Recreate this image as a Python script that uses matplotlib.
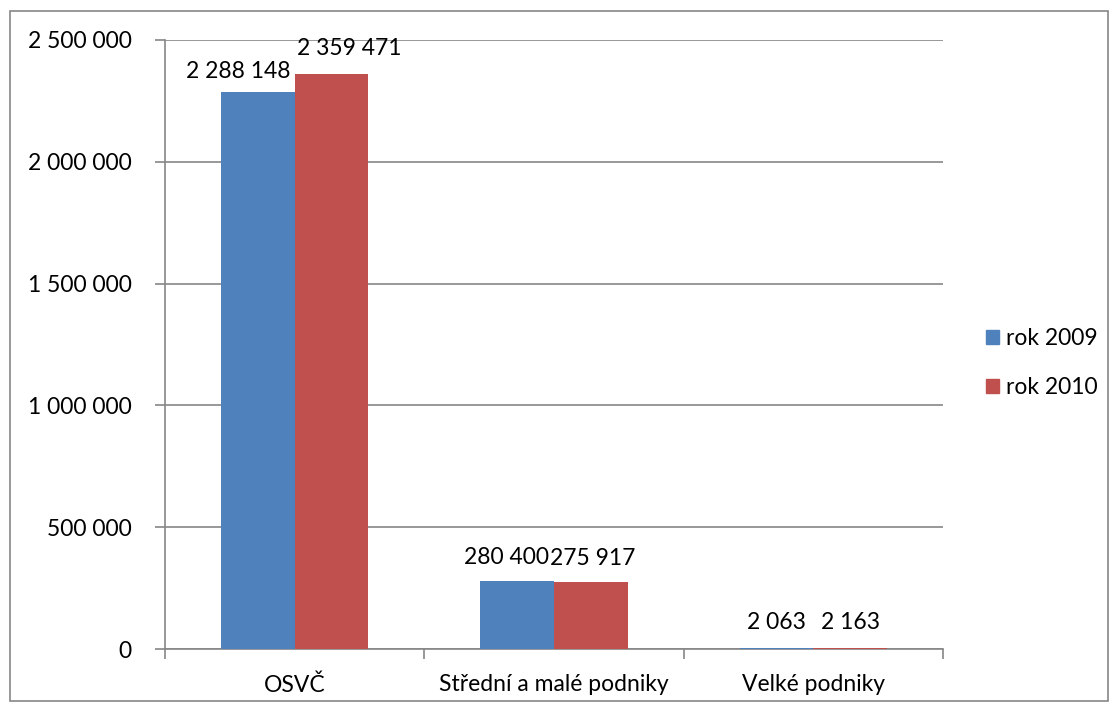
import matplotlib.pyplot as plt
import matplotlib.patches as mpatches
from matplotlib.ticker import FuncFormatter
import numpy as np

# data
categories = ["OSVČ", "Střední a malé podniky", "Velké podniky"]
rok_2009 = [2288148, 280400, 2063]
rok_2010 = [2359471, 275917, 2163]
series_names = ["rok 2009", "rok 2010"]

blue = "#4F81BD"
red = "#C0504D"
grey = "#868686"
fs = 16.5

plt.rcParams["font.family"] = ["Lato", "DejaVu Sans"]


def fmt(v, pos=None):
    return f"{int(v):,}".replace(",", " ")


fig = plt.figure(figsize=(11.19, 7.11), dpi=100)
ax = fig.add_axes([165 / 1119, 62 / 711, 778 / 1119, 609 / 711])

x = np.arange(len(categories))
w = 0.284
b1 = ax.bar(x - w / 2, rok_2009, w, color=blue, label=series_names[0], zorder=3)
b2 = ax.bar(x + w / 2, rok_2010, w, color=red, label=series_names[1], zorder=3)

# label offsets (points) - Excel nudged the crowded labels apart
label_off = [[(-14, 10), (-8, 12), (0, 14)],
             [(13, 14), (1.5, 12), (0, 14)]]
for i, bars in enumerate((b1, b2)):
    for j, r in enumerate(bars):
        ax.annotate(fmt(r.get_height()), (r.get_x() + r.get_width() / 2, r.get_height()),
                    xytext=label_off[i][j], textcoords="offset points",
                    ha="center", va="baseline", fontsize=fs)

ax.set_xlim(-0.5, 2.5)
ax.set_ylim(0, 2500000)
ax.set_yticks(np.arange(0, 2500001, 500000))
ax.yaxis.set_major_formatter(FuncFormatter(fmt))
ax.grid(axis="y", color=grey, linewidth=1.2, zorder=0)

ax.set_xticks(x)
ax.set_xticklabels(categories)
ax.set_xticks([-0.5, 0.5, 1.5, 2.5], minor=True)
ax.tick_params(axis="x", which="major", length=0, pad=18, labelsize=fs)
ax.tick_params(axis="x", which="minor", length=7, color=grey, width=1.2)
ax.tick_params(axis="y", length=7, color=grey, width=1.2, pad=17, labelsize=fs)

for s in ("top", "right"):
    ax.spines[s].set_visible(False)
for s in ("left", "bottom"):
    ax.spines[s].set_color(grey)
    ax.spines[s].set_linewidth(1.2)

handles = [mpatches.Patch(color=blue), mpatches.Patch(color=red)]
fig.legend(handles, series_names, loc="center left", bbox_to_anchor=(965 / 1119, 1 - 363 / 711),
           frameon=False, fontsize=fs, handlelength=0.6, handleheight=0.6,
           handletextpad=0.3, labelspacing=1.22)

fig.patches.append(mpatches.Rectangle((10 / 1119, 10 / 711), 1098 / 1119, 690 / 711,
                                      transform=fig.transFigure, fill=False,
                                      edgecolor=grey, linewidth=1.2))

fig.savefig("out.png", dpi=100)
